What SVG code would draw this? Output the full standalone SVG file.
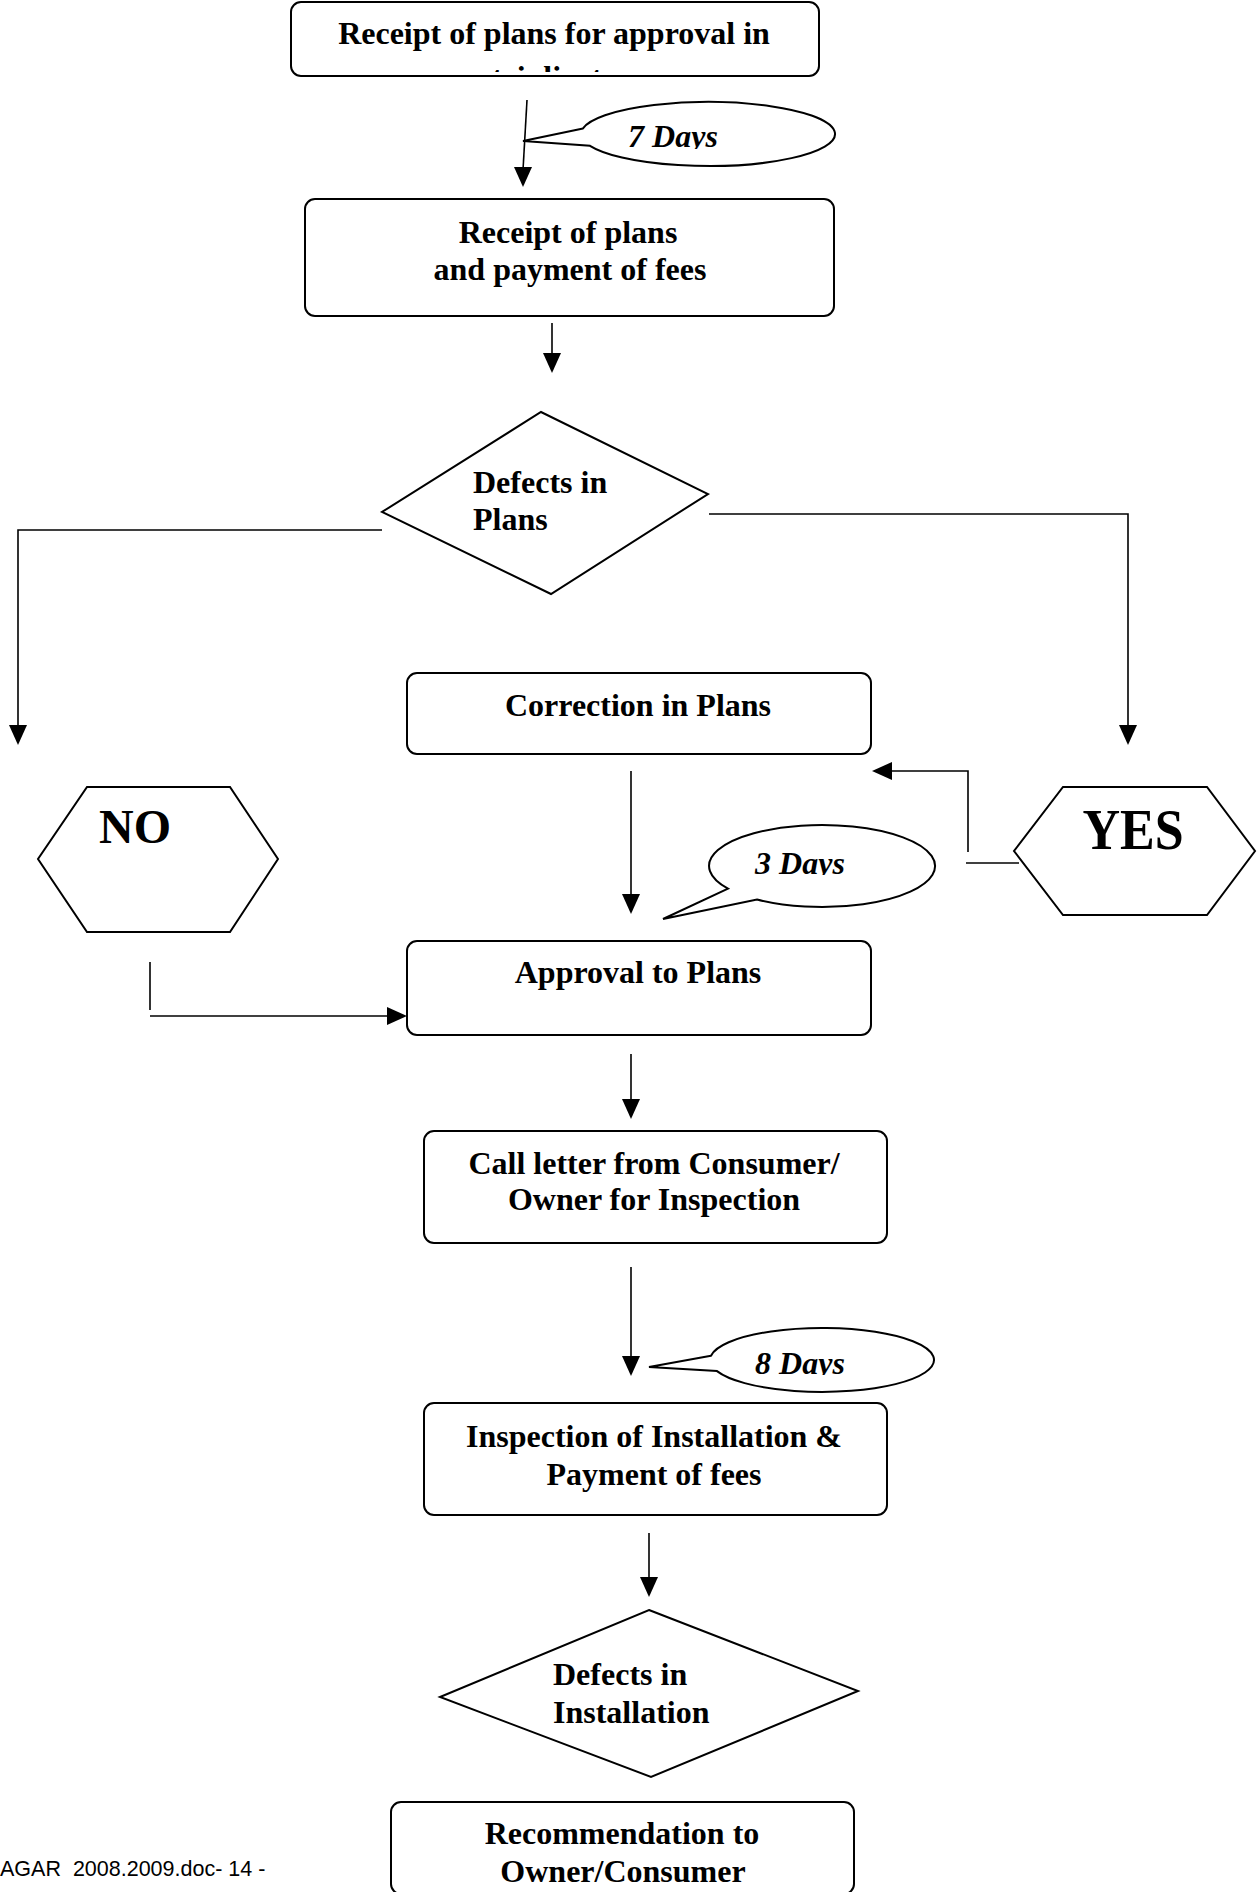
<svg xmlns="http://www.w3.org/2000/svg" width="1260" height="1892" viewBox="0 0 1260 1892">
<style>
.box{fill:#fff;stroke:#000;stroke-width:2}
.shape{fill:#fff;stroke:#000;stroke-width:2}
.t{font-family:"Liberation Serif","Times New Roman",serif;font-weight:bold;font-size:32px;fill:#000}
.c{text-anchor:middle}
.days{font-family:"Liberation Serif","Times New Roman",serif;font-weight:bold;font-style:italic;font-size:32px;fill:#000;text-anchor:middle}
.big{font-family:"Liberation Serif","Times New Roman",serif;font-weight:bold;fill:#000}
.ln{fill:none;stroke:#000;stroke-width:1.6}
.ah{fill:#000;stroke:none}
.foot{font-family:"Liberation Sans",Arial,sans-serif;font-size:21.5px;fill:#000}
</style>
<defs>
<clipPath id="clipTop"><rect x="291" y="2" width="528" height="70"/></clipPath>
<clipPath id="clip7"><rect x="590" y="100" width="240" height="49"/></clipPath>
<clipPath id="clip3"><rect x="720" y="830" width="200" height="45"/></clipPath>
<clipPath id="clip8"><rect x="720" y="1330" width="200" height="45"/></clipPath>
</defs>
<rect width="1260" height="1892" fill="#fff"/>

<g id="connectors">
<line class="ln" x1="527" y1="100" x2="523" y2="170"/>
<polygon class="ah" points="523,187 514,167 532,167"/>
<line class="ln" x1="552" y1="323" x2="552" y2="356"/>
<polygon class="ah" points="552,373 543,353 561,353"/>
<polyline class="ln" points="382,530 18,530 18,728"/>
<polygon class="ah" points="18,745 9,725 27,725"/>
<polyline class="ln" points="709,514 1128,514 1128,728"/>
<polygon class="ah" points="1128,745 1119,725 1137,725"/>
<line class="ln" x1="631" y1="771" x2="631" y2="897"/>
<polygon class="ah" points="631,914 622,894 640,894"/>
<polyline class="ln" points="968,852 968,771 890,771"/>
<polygon class="ah" points="872,771 892,762 892,780"/>
<line class="ln" x1="966" y1="863" x2="1019" y2="863"/>
<line class="ln" x1="150" y1="962" x2="150" y2="1010"/>
<line class="ln" x1="150" y1="1016" x2="390" y2="1016"/>
<polygon class="ah" points="407,1016 387,1007 387,1025"/>
<line class="ln" x1="631" y1="1054" x2="631" y2="1102"/>
<polygon class="ah" points="631,1119 622,1099 640,1099"/>
<line class="ln" x1="631" y1="1267" x2="631" y2="1359"/>
<polygon class="ah" points="631,1376 622,1356 640,1356"/>
<line class="ln" x1="649" y1="1533" x2="649" y2="1580"/>
<polygon class="ah" points="649,1597 640,1577 658,1577"/>
</g>

<g id="node-receipt-approval">
<rect class="box" x="291" y="2" width="528" height="74" rx="10"/>
<text class="t c" x="554" y="44">Receipt of plans for approval in</text>
<text class="t c" x="554" y="88" clip-path="url(#clipTop)">triplicate</text>
</g>

<g id="callout-7days">
<path class="shape" d="M583,128.4 L523,141 L590,145.8 A127,32 0 1 0 583,128.4 Z"/>
<text class="days" x="673" y="147" clip-path="url(#clip7)">7 Days</text>
</g>

<g id="node-receipt-fees">
<rect class="box" x="305" y="199" width="529" height="117" rx="10"/>
<text class="t c" x="568" y="243">Receipt of plans</text>
<text class="t c" x="570" y="280">and payment of fees</text>
</g>

<g id="node-defects-plans">
<polygon class="shape" points="541,412 708,494 551,594 382,512"/>
<text class="t" x="473" y="493">Defects in</text>
<text class="t" x="473" y="530">Plans</text>
</g>

<g id="node-correction">
<rect class="box" x="407" y="673" width="464" height="81" rx="10"/>
<text class="t c" x="638" y="716">Correction in Plans</text>
</g>

<g id="node-no">
<polygon class="shape" points="87,787 230,787 278,859 230,932 87,932 38,859"/>
<text class="big" x="99" y="843" font-size="48">NO</text>
</g>

<g id="node-yes">
<polygon class="shape" points="1063,787 1207,787 1255,851 1207,915 1063,915 1014,851"/>
<text class="big" font-size="52" text-anchor="middle" transform="translate(1133,849) scale(1,1.1)">YES</text>
</g>

<g id="callout-3days">
<path class="shape" d="M728,888.7 L663,919 L757,899.5 A113,41 0 1 0 728,888.7 Z"/>
<text class="days" x="800" y="874" clip-path="url(#clip3)">3 Days</text>
</g>

<g id="node-approval">
<rect class="box" x="407" y="941" width="464" height="94" rx="10"/>
<text class="t c" x="638" y="983">Approval to Plans</text>
</g>

<g id="node-call-letter">
<rect class="box" x="424" y="1131" width="463" height="112" rx="10"/>
<text class="t c" x="654" y="1174">Call letter from Consumer/</text>
<text class="t c" x="654" y="1210">Owner for Inspection</text>
</g>

<g id="callout-8days">
<path class="shape" d="M711,1355.7 L649,1367 L717,1371.1 A112,32 0 1 0 711,1355.7 Z"/>
<text class="days" x="800" y="1374" clip-path="url(#clip8)">8 Days</text>
</g>

<g id="node-inspection">
<rect class="box" x="424" y="1403" width="463" height="112" rx="10"/>
<text class="t c" x="654" y="1447">Inspection of Installation &amp;</text>
<text class="t c" x="654" y="1485">Payment of fees</text>
</g>

<g id="node-defects-installation">
<polygon class="shape" points="649,1610 858,1691 651,1777 440,1697"/>
<text class="t" x="553" y="1685">Defects in</text>
<text class="t" x="553" y="1723">Installation</text>
</g>

<g id="node-recommendation">
<rect class="box" x="391" y="1802" width="463" height="92" rx="10"/>
<text class="t c" x="622" y="1844">Recommendation to</text>
<text class="t c" x="623" y="1882">Owner/Consumer</text>
</g>

<text class="foot" x="0" y="1876" xml:space="preserve">AGAR  2008.2009.doc- 14 -</text>
</svg>
